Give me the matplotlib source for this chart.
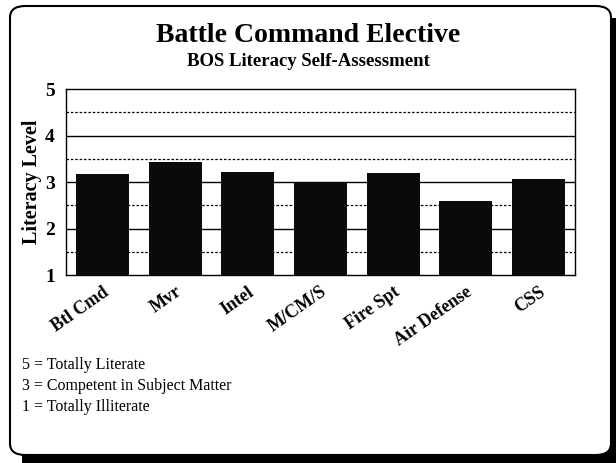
import matplotlib
matplotlib.use("Agg")
import matplotlib.pyplot as plt
from matplotlib.patches import FancyBboxPatch, Rectangle

categories = ["Btl Cmd", "Mvr", "Intel", "M/CM/S", "Fire Spt", "Air Defense", "CSS"]
values = [3.17, 3.44, 3.21, 3.00, 3.20, 2.59, 3.06]
yticks = [1, 2, 3, 4, 5]
notes = ["5 = Totally Literate", "3 = Competent in Subject Matter", "1 = Totally Illiterate"]

W, H = 616, 463
fig = plt.figure(figsize=(W / 100, H / 100), dpi=100)
fig.patch.set_facecolor("white")

serif = "Liberation Serif"

# frame with shadow
fig.patches.append(Rectangle((22 / W, 0 / H), 594 / W, 445 / H, transform=fig.transFigure,
                             facecolor="black", edgecolor="none", zorder=0))
fig.patches.append(FancyBboxPatch((10 / W, 8 / H), 601 / W, 449 / H,
                                  boxstyle="round,pad=0,rounding_size=0.025",
                                  transform=fig.transFigure, facecolor="white",
                                  edgecolor="black", linewidth=1.5, zorder=1))

ax = fig.add_axes([66 / W, 1 - 275 / H, (575 - 66) / W, (275 - 89) / H])
ax.set_zorder(2)
x = list(range(len(categories)))
ax.bar(x, [v - 1 for v in values], bottom=1, width=0.73, color="#0a0a0a", zorder=3)
ax.set_xlim(-0.5, len(categories) - 0.5)
ax.set_ylim(1, 5)
ax.set_yticks(yticks)
for y in [2, 3, 4]:
    ax.axhline(y, color="black", linewidth=1.0, zorder=1)
for y in [1.5, 2.5, 3.5, 4.5]:
    ax.axhline(y, color="black", linewidth=0.9, linestyle=(0, (2, 1.5)), zorder=1)
for s in ax.spines.values():
    s.set_linewidth(1.0)
ax.tick_params(axis="y", length=0, pad=8, labelsize=14)
for lbl in ax.get_yticklabels():
    lbl.set_fontweight("bold")
    lbl.set_fontfamily(serif)
ax.set_xticks(x)
ax.set_xticklabels(categories, rotation=35, ha="right", rotation_mode="anchor",
                   fontfamily=serif, fontweight="bold", fontsize=13)
ax.tick_params(axis="x", length=0, pad=6)
ax.set_ylabel("Literacy Level", fontfamily=serif, fontweight="bold", fontsize=14.5,
              va="center")
ax.yaxis.set_label_coords(-34 / 509, 0.5)

fig.text(0.5, 1 - 35 / H, "Battle Command Elective", ha="center", va="center",
         fontfamily=serif, fontweight="bold", fontsize=20)
fig.text(0.5, 1 - 62 / H, "BOS Literacy Self-Assessment", ha="center", va="center",
         fontfamily=serif, fontweight="bold", fontsize=13.5)

for i, t in enumerate(notes):
    fig.text(22 / W, 1 - (365 + 21 * i) / H, t, ha="left", va="center",
             fontfamily=serif, fontsize=11.5)

fig.savefig("out.png", dpi=100)
